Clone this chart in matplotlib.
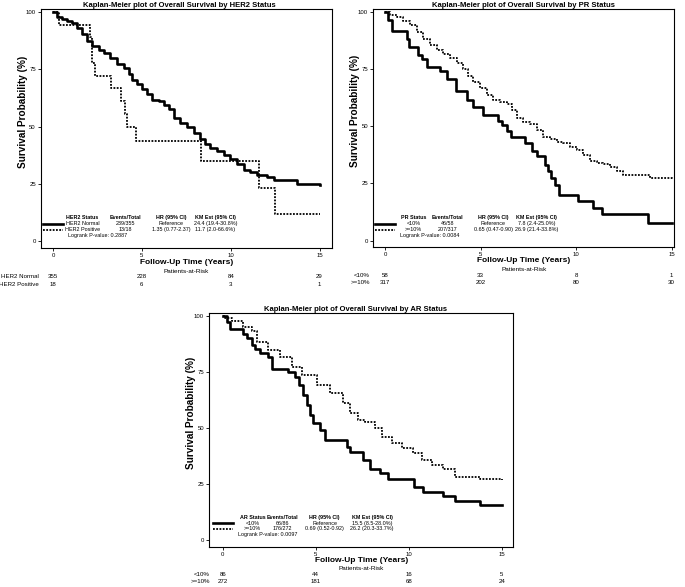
import matplotlib
matplotlib.use("Agg")
import matplotlib.pyplot as plt
import matplotlib.transforms as mtransforms

plt.rcParams["font.family"] = ["Liberation Sans", "DejaVu Sans"]

# ---- HER2 ----
her2_norm_t = [0, 0.22, 0.5, 0.8, 1.07, 1.35, 1.63, 1.91, 2.2, 2.57, 2.85, 3.23, 3.6, 3.98, 4.26,
               4.45, 4.73, 5.0, 5.29, 5.57, 5.95, 6.23, 6.51, 6.79, 7.17, 7.54, 7.92, 8.29, 8.57,
               8.85, 9.23, 9.6, 9.98, 10.35, 10.73, 11.1, 11.48, 12.05, 12.42, 13.74, 15.0]
her2_norm_s = [100, 98, 97, 96, 95, 93, 90.5, 87.5, 85, 83.5, 82, 80, 77.5, 75.5, 73,
               70.5, 68.5, 66.5, 64, 61.5, 61, 59.5, 57.5, 53.5, 51.5, 50, 47, 44.5, 42.5,
               40.5, 39.5, 37.5, 36, 33.5, 31, 30, 29, 28, 26.5, 25, 24.4]
her2_pos_t = [0, 0.32, 2.06, 2.2, 2.38, 3.28, 3.83, 4.07, 4.17, 4.64, 8.35, 11.6, 12.5, 15.0]
her2_pos_s = [100, 94.4, 88.9, 77.8, 72.2, 66.7, 61.1, 55.6, 50.0, 43.7, 34.9, 23.3, 11.6, 11.6]

# ---- PR ----
pr_low_t = [0, 0.17, 0.35, 1.17, 1.25, 1.71, 1.92, 2.18, 2.88, 3.23, 3.71, 4.27, 4.62, 5.11,
            5.9, 6.1, 6.37, 6.6, 7.33, 7.68, 7.94, 8.37, 8.51, 8.69, 8.9, 9.12, 10.12, 10.9,
            11.34, 13.78, 15.0]
pr_low_s = [100, 96.5, 91.4, 87.9, 84.5, 81.0, 79.3, 75.9, 74.1, 70.7, 65.5, 61.5, 58.6, 55.0,
            52.4, 50.5, 48.1, 45.5, 42.8, 39.4, 36.8, 33.2, 30.3, 27.4, 24.5, 20.1, 17.2, 14.3,
            11.5, 7.8, 7.8]
pr_high_t = [0, 0.26, 0.61, 0.96, 1.31, 1.66, 2.0, 2.35, 2.7, 3.05, 3.4, 3.75, 4.1, 4.36, 4.62,
             4.97, 5.32, 5.67, 6.02, 6.37, 6.63, 6.89, 7.24, 7.59, 7.94, 8.29, 8.63, 8.98, 9.33,
             9.68, 10.03, 10.38, 10.73, 11.08, 11.42, 11.77, 12.12, 12.47, 13.87, 15.0]
pr_high_s = [100, 98.5, 97.5, 96, 94, 91, 88, 85.5, 83.5, 81.5, 80, 77.5, 75, 72, 69.5,
             66.5, 63.5, 61.5, 60.5, 59.5, 57, 53.5, 52, 51, 48.5, 45.5, 44.5, 43, 42.5,
             41, 39.5, 37.5, 35, 34, 33.5, 32, 30.5, 28.5, 27.6, 26.9]

# ---- AR ----
ar_low_t = [0, 0.21, 0.39, 1.11, 1.29, 1.56, 1.74, 2.0, 2.45, 2.63, 3.52, 3.88, 4.12, 4.3, 4.51,
            4.69, 4.87, 5.23, 5.5, 6.66, 6.84, 7.54, 7.9, 8.46, 8.9, 10.3, 10.78, 11.86, 12.49,
            13.84, 15.0]
ar_low_s = [100, 97.3, 94.1, 92.1, 89.9, 87.2, 85.4, 83.2, 81.7, 76.5, 75.0, 72.8, 69.1, 64.6, 60.2,
            55.7, 52.3, 49.0, 44.6, 41.6, 39.4, 35.7, 31.5, 29.7, 27.0, 23.5, 21.5, 19.6, 17.5,
            15.5, 15.5]
ar_high_t = [0, 0.12, 0.5, 1.11, 1.56, 1.83, 2.45, 3.08, 3.71, 4.25, 5.05, 5.77, 6.48, 6.84,
             7.29, 7.65, 8.19, 8.55, 9.09, 9.62, 10.25, 10.7, 11.24, 11.86, 12.49, 13.83, 15.0]
ar_high_s = [100, 99.2, 97.5, 95.1, 93.2, 88.4, 84.7, 81.7, 77.2, 73.6, 69.1, 65.4, 60.9, 56.5,
             53.5, 52.7, 49.8, 46.1, 43.1, 40.9, 38.7, 35.7, 33.4, 31.5, 28.2, 27.2, 26.8]

# ---- risk tables / legend text ----
risk_times = [0, 5, 10, 15]
her2_groups = ["HER2 Normal", "HER2 Positive"]
her2_risk = [[355, 228, 84, 29], [18, 6, 3, 1]]
her2_table = [["HER2 Status", "Events/Total", "HR (95% CI)", "KM Est (95% CI)"],
              ["HER2 Normal", "239/355", "Reference", "24.4 (19.4-30.8%)"],
              ["HER2 Positive", "13/18", "1.35 (0.77-2.37)", "11.7 (2.0-66.6%)"]]
her2_p = "Logrank P-value: 0.2887"

pr_groups = ["<10%", ">=10%"]
pr_risk = [[58, 33, 8, 1], [317, 202, 80, 30]]
pr_table = [["PR Status", "Events/Total", "HR (95% CI)", "KM Est (95% CI)"],
            ["<10%", "46/58", "Reference", "7.8 (2.4-25.0%)"],
            [">=10%", "207/317", "0.65 (0.47-0.90)", "26.9 (21.4-33.8%)"]]
pr_p = "Logrank P-value: 0.0084"

ar_groups = ["<10%", ">=10%"]
ar_risk = [[86, 44, 16, 5], [272, 181, 68, 24]]
ar_table = [["AR Status", "Events/Total", "HR (95% CI)", "KM Est (95% CI)"],
            ["<10%", "66/86", "Reference", "15.5 (8.5-28.0%)"],
            [">=10%", "176/272", "0.69 (0.52-0.92)", "26.2 (20.3-33.7%)"]]
ar_p = "Logrank P-value: 0.0097"

W, H = 685, 587


def px_axes(fig, left, top, right, bottom):
    return fig.add_axes([left / W, 1 - bottom / H, (right - left) / W, (bottom - top) / H])


def km_panel(ax, title, curves, table, pval, groups, risk, xlim, ylim, cols, line_x,
             risk_label_x, title_x=0.5):
    styles = [dict(color="black", lw=1.9, linestyle="-"),
              dict(color="black", lw=1.3, linestyle=(0, (1, 0.8)))]
    for (t, s), st in zip(curves, styles):
        ax.plot(t, s, drawstyle="steps-post", **st)

    ax.set_xlim(*xlim)
    ax.set_ylim(*ylim)
    ax.set_xticks(risk_times)
    ax.set_yticks([0, 25, 50, 75, 100])
    ax.tick_params(axis="both", labelsize=4.3, length=2.5, width=0.6, pad=1.2)
    for sp in ax.spines.values():
        sp.set_linewidth(0.8)
    ax.set_title(title, fontsize=5.5, fontweight="bold", pad=1.5, x=title_x)
    ax.set_xlabel("Follow-Up Time (Years)", fontsize=6.0, fontweight="bold")
    ax.xaxis.label.set_va("center")
    ax.xaxis.set_label_coords(0.5, -0.058)
    ax.set_ylabel("Survival Probability (%)", fontsize=7.2, fontweight="bold")
    ax.yaxis.set_label_coords(-0.045, 0.57)

    # legend-like table inside the plot
    rows_y = [10.1, 7.5, 4.9]
    for r, row in enumerate(table):
        for c, txt in enumerate(row):
            ax.text(cols[c], rows_y[r], txt, fontsize=3.9, ha="center", va="center",
                    fontweight="bold" if r == 0 else "normal")
    ax.text(cols[4], 2.5, pval, fontsize=3.9, ha="left", va="center")
    for r, st in enumerate(styles):
        ax.plot(line_x, [rows_y[r + 1]] * 2, **st)

    # patients at risk
    tr = mtransforms.blended_transform_factory(ax.transData, ax.transAxes)
    ax.text(0.5, -0.095, "Patients-at-Risk", transform=ax.transAxes, fontsize=4.6,
            ha="center", va="center")
    for g, (name, vals) in enumerate(zip(groups, risk)):
        yy = -0.12 - g * 0.03
        ax.text(risk_label_x, yy, name, transform=tr, fontsize=4.4, ha="right", va="center",
                clip_on=False)
        for t, v in zip(risk_times, vals):
            ax.text(t, yy, str(v), transform=tr, fontsize=4.4, ha="center", va="center",
                    clip_on=False)


fig = plt.figure(figsize=(6.85, 5.87), dpi=100)

ax1 = px_axes(fig, 41, 9.3, 332, 248.3)
km_panel(ax1, "Kaplan-Meier plot of Overall Survival by HER2 Status",
         [(her2_norm_t, her2_norm_s), (her2_pos_t, her2_pos_s)],
         her2_table, her2_p, her2_groups, her2_risk,
         xlim=(-0.68, 15.7), ylim=(-3.2, 101.2),
         cols=[1.66, 4.08, 6.63, 9.14, 0.86], line_x=[-0.55, 0.58], risk_label_x=-0.79,
         title_x=0.476)

ax2 = px_axes(fig, 373.3, 9.0, 674.3, 246.7)
km_panel(ax2, "Kaplan-Meier plot of Overall Survival by PR Status",
         [(pr_low_t, pr_low_s), (pr_high_t, pr_high_s)],
         pr_table, pr_p, pr_groups, pr_risk,
         xlim=(-0.61, 15.14), ylim=(-2.6, 101.2),
         cols=[1.5, 3.28, 5.67, 7.94, 0.78], line_x=[-0.52, 0.52], risk_label_x=-0.78)

ax3 = px_axes(fig, 209.3, 312.7, 513, 546.7)
km_panel(ax3, "Kaplan-Meier plot of Overall Survival by AR Status",
         [(ar_low_t, ar_low_s), (ar_high_t, ar_high_s)],
         ar_table, ar_p, ar_groups, ar_risk,
         xlim=(-0.72, 15.6), ylim=(-3.0, 101.4),
         cols=[1.6, 3.22, 5.48, 8.03, 0.84], line_x=[-0.5, 0.57], risk_label_x=-0.68,
         title_x=0.483)

fig.savefig("out.png", dpi=100)
